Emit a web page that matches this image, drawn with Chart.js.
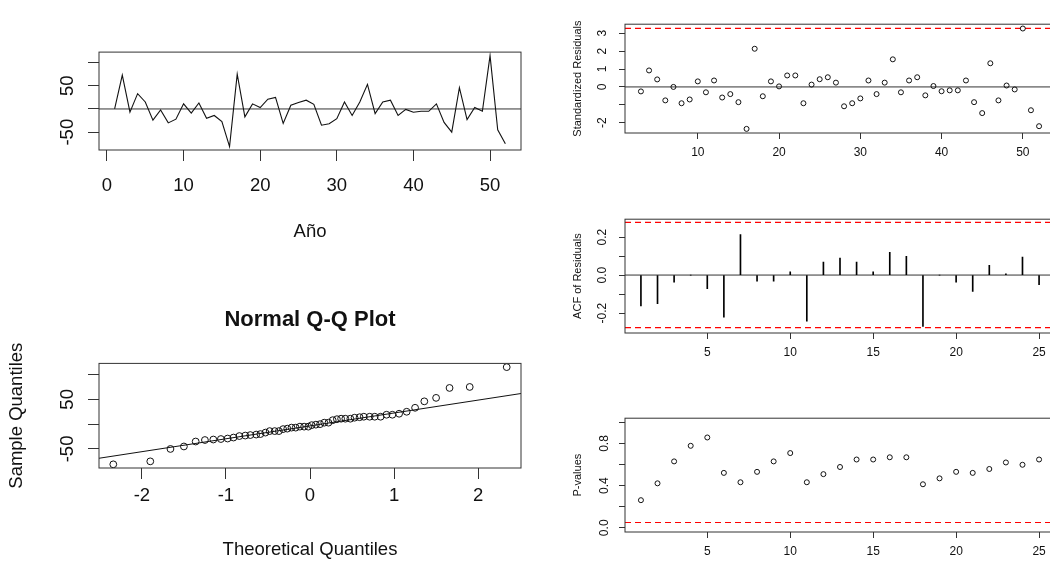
<!DOCTYPE html>
<html lang="es">
<head>
<meta charset="utf-8">
<title>Diagnóstico de residuos</title>
<script src="https://cdn.jsdelivr.net/npm/chart.js@4.4.1/dist/chart.umd.min.js"></script>
<style>
    html, body { margin: 0; padding: 0; background: #fff; overflow: hidden; width: 1050px; height: 561px; }
    canvas { position: absolute; }
</style>
</head>
<body>
<canvas id="serie" width="531" height="216" style="left:0;top:34px"></canvas>
<canvas id="qq" width="531" height="271" style="left:0;top:290px"></canvas>
<canvas id="estandar" width="500" height="161" style="left:565px;top:6px"></canvas>
<canvas id="acf" width="500" height="161" style="left:565px;top:206px"></canvas>
<canvas id="pvalores" width="500" height="156" style="left:565px;top:405px"></canvas>
<script>
// Datos
const anios = [1,2,3,4,5,6,7,8,9,10,11,12,13,14,15,16,17,18,19,20,21,22,23,24,25,26,
               27,28,29,30,31,32,33,34,35,36,37,38,39,40,41,42,43,44,45,46,47,48,49,50,51,52];
const residuos = [0, 73, -7, 33, 15, -24, -2, -30, -22, 11, -9, 13, -20, -14, -27, -81, 75, -17, 11, 3,
                  21, 25, -31, 8, 14, 19, 10, -35, -32, -21, 15, -14, 15, 53, -10, 15, 19, -14, -1, -7,
                  -5, -5, 11, -29, -50, 46, -23, 3, -5, 115, -45, -75];

// cuantiles teóricos de la normal para 52 puntos
const cuantilesTeoricos = [-2.34, -1.90, -1.66, -1.50, -1.36, -1.25, -1.15, -1.06, -0.98, -0.91, -0.84, -0.77, -0.71,
                           -0.64, -0.59, -0.53, -0.48, -0.42, -0.37, -0.32, -0.27, -0.22, -0.17, -0.12, -0.07, -0.02,
                           0.02, 0.07, 0.12, 0.17, 0.22, 0.27, 0.32, 0.37, 0.42, 0.48, 0.53, 0.59, 0.64,
                           0.71, 0.77, 0.84, 0.91, 0.98, 1.06, 1.15, 1.25, 1.36, 1.50, 1.66, 1.90, 2.34];
const qqIntercepto = -3.5;
const qqPendiente = 26;

const tiempos = [3,4,5,6,7,8,9,10,11,12,13,14,15,16,17,18,19,20,21,22,23,24,25,26,27,
                 28,29,30,31,32,33,34,35,36,37,38,39,40,41,42,43,44,45,46,47,48,49,50,51,52];
const residuosEstandar = [-0.25, 0.92, 0.42, -0.75, 0.00, -0.91, -0.70, 0.31, -0.30, 0.36, -0.59, -0.40, -0.85,
                          -2.34, 2.13, -0.52, 0.31, 0.03, 0.64, 0.64, -0.91, 0.13, 0.43, 0.54, 0.24, -1.08,
                          -0.91, -0.64, 0.36, -0.40, 0.24, 1.54, -0.30, 0.36, 0.54, -0.47, 0.05, -0.24, -0.19,
                          -0.19, 0.36, -0.85, -1.46, 1.32, -0.75, 0.08, -0.14, 3.26, -1.30, -2.19];
const limiteEstandar = 3.27;

const retardos = [1,2,3,4,5,6,7,8,9,10,11,12,13,14,15,16,17,18,19,20,21,22,23,24,25];
const acfResiduos = [-0.163, -0.151, -0.038, 0.0, -0.072, -0.222, 0.213, -0.032, -0.032, 0.017, -0.243, 0.068, 0.089,
                     0.068, 0.017, 0.120, 0.099, -0.270, 0.0, -0.038, -0.086, 0.051, 0.007, 0.094, -0.051];
const limiteAcf = 0.277;

const pValores = [0.262, 0.422, 0.630, 0.778, 0.857, 0.521, 0.432, 0.531, 0.630, 0.709, 0.432, 0.509, 0.577,
                  0.648, 0.648, 0.669, 0.669, 0.413, 0.469, 0.531, 0.521, 0.558, 0.620, 0.598, 0.648];
const nivelP = 0.05;

// marcas de los ejes
const ticksSerieX = [0, 10, 20, 30, 40, 50];
const ticksNivelY = [-50, 0, 50, 100];
const etiquetasNivelY = ['-50', '', '50', ''];
const ticksQqX = [-2, -1, 0, 1, 2];
const ticksEstX = [10, 20, 30, 40, 50];
const ticksEstY = [-2, -1, 0, 1, 2, 3];
const etiquetasEstY = ['-2', '', '0', '1', '2', '3'];
const ticksRetX = [5, 10, 15, 20, 25];
const ticksAcfY = [-0.2, -0.1, 0, 0.1, 0.2];
const etiquetasAcfY = ['-0.2', '', '0.0', '', '0.2'];
const ticksPY = [0, 0.2, 0.4, 0.6, 0.8, 1.0];
const etiquetasPY = ['0.0', '', '0.4', '', '0.8', ''];

Chart.defaults.font.family = "'Liberation Sans', Arial, sans-serif";
Chart.defaults.color = '#111';

const ROJO = '#ff0000';
const NEGRO = '#111';

// dibuja el marco, las líneas horizontales y la recta del qq
const marco = {
    id: 'marco',
    beforeDatasetsDraw(chart, args, o) {
        const { ctx, chartArea: a, scales: { x, y } } = chart;
        ctx.save();
        ctx.beginPath();
        ctx.rect(a.left, a.top, a.right - a.left, a.bottom - a.top);
        ctx.clip();
        (o.lineas || []).forEach(l => {
            const py = y.getPixelForValue(l.y);
            ctx.beginPath();
            ctx.setLineDash(l.dash || []);
            ctx.strokeStyle = l.color;
            ctx.lineWidth = l.ancho || 1;
            ctx.moveTo(a.left, py);
            ctx.lineTo(a.right, py);
            ctx.stroke();
        });
        if (o.recta) {
            ctx.setLineDash([]);
            ctx.strokeStyle = NEGRO;
            ctx.lineWidth = 1;
            ctx.beginPath();
            ctx.moveTo(x.getPixelForValue(x.min), y.getPixelForValue(o.recta.a + o.recta.b * x.min));
            ctx.lineTo(x.getPixelForValue(x.max), y.getPixelForValue(o.recta.a + o.recta.b * x.max));
            ctx.stroke();
        }
        ctx.restore();
    },
    afterDraw(chart) {
        const { ctx, chartArea: a } = chart;
        ctx.save();
        ctx.strokeStyle = '#333';
        ctx.lineWidth = 1;
        ctx.strokeRect(a.left, a.top, a.right - a.left, a.bottom - a.top);
        ctx.restore();
    }
};
Chart.register(marco);

function eje(cfg) {
    return {
        type: 'linear',
        min: cfg.min,
        max: cfg.max,
        offset: false,
        afterBuildTicks: s => { s.ticks = cfg.ticks.map(v => ({ value: v })); },
        afterFit: s => {
            if (cfg.vertical) s.width = cfg.tam; else s.height = cfg.tam;
        },
        grid: { drawOnChartArea: false, drawTicks: true, tickLength: cfg.tick, color: '#333', offset: false },
        border: { display: false },
        ticks: {
            autoSkip: false,
            font: { size: cfg.fuente },
            color: NEGRO,
            padding: cfg.pad,
            minRotation: cfg.vertical ? 90 : 0,
            maxRotation: cfg.vertical ? 90 : 0,
            crossAlign: cfg.vertical ? 'center' : 'near',
            callback: (v, i) => cfg.etiquetas ? cfg.etiquetas[i] : String(v)
        },
        title: cfg.titulo ? {
            display: true,
            text: cfg.titulo,
            color: NEGRO,
            font: { size: cfg.fuenteTitulo || cfg.fuente },
            padding: cfg.padTitulo
        } : { display: false }
    };
}

function opcionesBase(escalas, padding, marcoOpc, extra) {
    return {
        responsive: false,
        animation: false,
        events: [],
        layout: { padding },
        scales: escalas,
        plugins: Object.assign({
            legend: { display: false },
            tooltip: { enabled: false },
            marco: marcoOpc
        }, extra || {})
    };
}

const puntoAbierto = {
    showLine: false,
    pointRadius: 2.5,
    pointBorderWidth: 1,
    pointBorderColor: NEGRO,
    pointBackgroundColor: 'rgba(0,0,0,0)'
};

// Serie de residuos en el tiempo
new Chart(document.getElementById('serie'), {
    type: 'scatter',
    data: {
        datasets: [{
            data: anios.map((a, i) => ({ x: a, y: residuos[i] })),
            showLine: true,
            borderColor: NEGRO,
            borderWidth: 1.1,
            pointRadius: 0,
            tension: 0
        }]
    },
    options: opcionesBase({
        x: eje({ min: -1.04, max: 54.04, ticks: ticksSerieX, tam: 100, tick: 11, fuente: 18.5, pad: 14,
                 titulo: 'Año', padTitulo: { top: 0, bottom: 7 } }),
        y: eje({ vertical: true, min: -88.4, max: 122.5, ticks: ticksNivelY, etiquetas: etiquetasNivelY,
                 tam: 99, tick: 11, fuente: 18.5, pad: 7 })
    }, { top: 10, right: 10, left: 0, bottom: 0 }, { lineas: [{ y: 0, color: '#333' }] })
});

// Gráfico Q-Q normal
const cuantilesMuestra = [...residuos].sort((a, b) => a - b);
new Chart(document.getElementById('qq'), {
    type: 'scatter',
    data: {
        datasets: [Object.assign({}, puntoAbierto, {
            pointRadius: 3.4,
            data: cuantilesTeoricos.map((q, i) => ({ x: q, y: cuantilesMuestra[i] }))
        })]
    },
    options: opcionesBase({
        x: eje({ min: -2.51, max: 2.51, ticks: ticksQqX, tam: 93, tick: 11, fuente: 18.5, pad: 6,
                 titulo: 'Theoretical Quantiles', padTitulo: { top: 0, bottom: 0 } }),
        y: eje({ vertical: true, min: -88.4, max: 122.5, ticks: ticksNivelY, etiquetas: etiquetasNivelY,
                 tam: 99, tick: 11, fuente: 18.5, pad: 7,
                 titulo: 'Sample Quantiles', padTitulo: { top: 6, bottom: 0 } })
    }, { top: 0, right: 10, left: 0, bottom: 0 }, { recta: { a: qqIntercepto, b: qqPendiente } }, {
        title: {
            display: true,
            text: 'Normal Q-Q Plot',
            fullSize: false,
            color: NEGRO,
            font: { size: 22, weight: 'bold' },
            padding: { top: 17, bottom: 30 }
        }
    })
});

// Residuos estandarizados
new Chart(document.getElementById('estandar'), {
    type: 'scatter',
    data: {
        datasets: [Object.assign({}, puntoAbierto, {
            data: tiempos.map((t, i) => ({ x: t, y: residuosEstandar[i] }))
        })]
    },
    options: opcionesBase({
        x: eje({ min: 1.04, max: 53.96, ticks: ticksEstX, tam: 34, tick: 6, fuente: 12, pad: 6.5 }),
        y: eje({ vertical: true, min: -2.57, max: 3.5, ticks: ticksEstY, etiquetas: etiquetasEstY,
                 tam: 60, tick: 6, fuente: 12, pad: 11,
                 titulo: 'Standardized Residuals', fuenteTitulo: 11, padTitulo: { top: 6.4, bottom: 0 } })
    }, { top: 10, right: 10, left: 0, bottom: 0 }, {
        lineas: [{ y: 0, color: '#333' }, { y: limiteEstandar, color: ROJO, dash: [6, 4], ancho: 1.2 }]
    })
});

// ACF de los residuos
new Chart(document.getElementById('acf'), {
    type: 'bar',
    data: {
        datasets: [{
            data: retardos.map((r, i) => ({ x: r, y: acfResiduos[i] })),
            backgroundColor: '#000',
            barThickness: 1,
            borderWidth: 0
        }]
    },
    options: opcionesBase({
        x: eje({ min: 0.04, max: 25.96, ticks: ticksRetX, tam: 34, tick: 6, fuente: 12, pad: 6.5 }),
        y: eje({ vertical: true, min: -0.305, max: 0.294, ticks: ticksAcfY, etiquetas: etiquetasAcfY,
                 tam: 60, tick: 6, fuente: 12, pad: 6,
                 titulo: 'ACF of Residuals', fuenteTitulo: 11, padTitulo: { top: 6.4, bottom: 0 } })
    }, { top: 10, right: 10, left: 0, bottom: 0 }, {
        lineas: [
            { y: 0, color: '#333' },
            { y: limiteAcf, color: ROJO, dash: [6, 4], ancho: 1.2 },
            { y: -limiteAcf, color: ROJO, dash: [6, 4], ancho: 1.2 }
        ]
    })
});

// P-valores de Ljung-Box
new Chart(document.getElementById('pvalores'), {
    type: 'scatter',
    data: {
        datasets: [Object.assign({}, puntoAbierto, {
            data: retardos.map((r, i) => ({ x: r, y: pValores[i] }))
        })]
    },
    options: opcionesBase({
        x: eje({ min: 0.04, max: 25.96, ticks: ticksRetX, tam: 29, tick: 6, fuente: 12, pad: 6.5 }),
        y: eje({ vertical: true, min: -0.04, max: 1.04, ticks: ticksPY, etiquetas: etiquetasPY,
                 tam: 60, tick: 6, fuente: 12, pad: 6,
                 titulo: 'P-values', fuenteTitulo: 11, padTitulo: { top: 6.4, bottom: 0 } })
    }, { top: 10, right: 10, left: 0, bottom: 0 }, {
        lineas: [{ y: nivelP, color: ROJO, dash: [6, 4], ancho: 1.2 }]
    })
});
</script>
</body>
</html>
